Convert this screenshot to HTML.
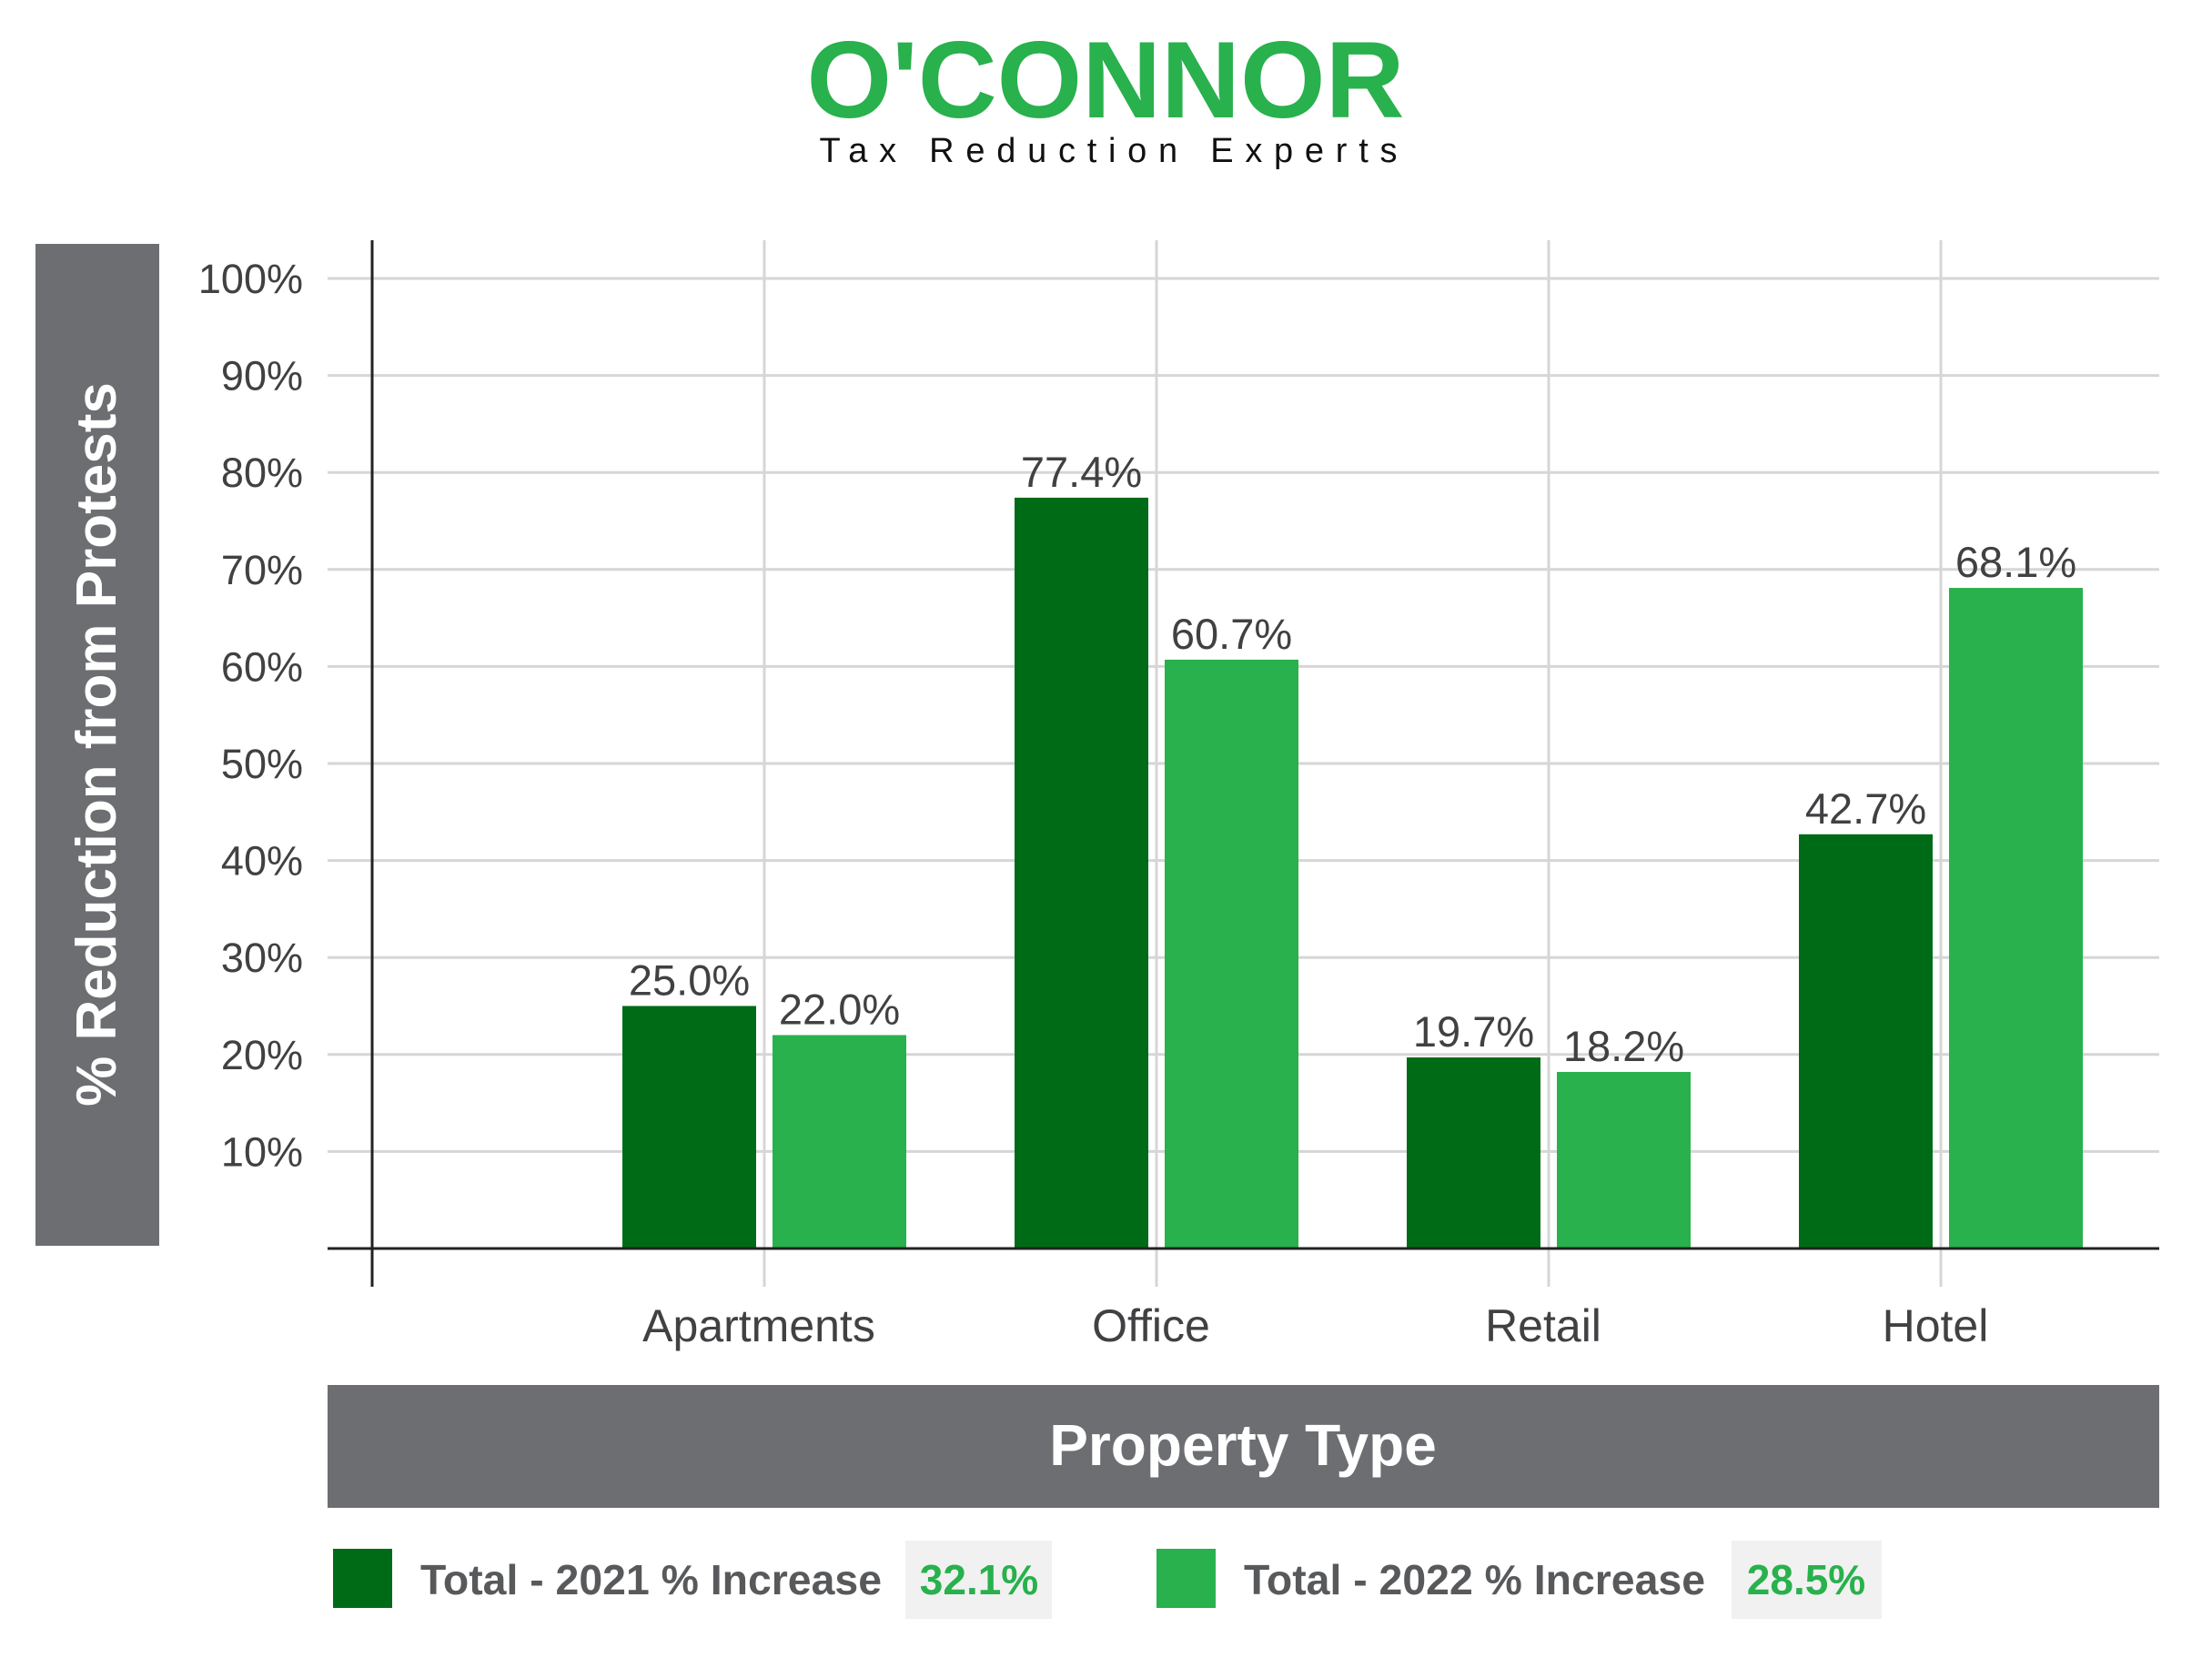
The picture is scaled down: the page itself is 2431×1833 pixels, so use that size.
<!DOCTYPE html>
<html><head><meta charset="utf-8"><style>
html,body{margin:0;padding:0;background:#fff;}
svg{display:block;font-family:"Liberation Sans",sans-serif;}
</style></head><body>
<svg width="2431" height="1833" viewBox="0 0 2431 1833">
<g>
<text x="1215" y="129" text-anchor="middle" font-size="120" font-weight="bold" fill="#28b14c" textLength="657" lengthAdjust="spacingAndGlyphs">O'CONNOR</text>
<text x="1218" y="178" text-anchor="middle" font-size="38" fill="#111" textLength="635" lengthAdjust="spacing">Tax Reduction Experts</text>
</g>
<rect x="39" y="268" width="136" height="1101" fill="#6d6e71"/>
<text transform="translate(127,818) rotate(-90)" text-anchor="middle" font-size="62" font-weight="bold" fill="#fff">% Reduction from Protests</text>
<g id="plot"></g>
<rect x="360" y="1522" width="2013" height="135" fill="#6d6e71"/>
<text x="1366" y="1610" text-anchor="middle" font-size="64" font-weight="bold" fill="#fff">Property Type</text>
<g>
<rect x="366" y="1702" width="65" height="65" fill="#006b16"/>
<text x="462" y="1752" font-size="46" font-weight="bold" fill="#58595b" textLength="507" lengthAdjust="spacingAndGlyphs">Total - 2021 % Increase</text>
<rect x="995" y="1693" width="161" height="86" fill="#f1f1f1"/>
<text x="1076" y="1752" text-anchor="middle" font-size="46" font-weight="bold" fill="#28b14c">32.1%</text>
<rect x="1271" y="1702" width="65" height="65" fill="#28b14c"/>
<text x="1367" y="1752" font-size="46" font-weight="bold" fill="#58595b" textLength="507" lengthAdjust="spacingAndGlyphs">Total - 2022 % Increase</text>
<rect x="1903" y="1693" width="165" height="86" fill="#f1f1f1"/>
<text x="1985" y="1752" text-anchor="middle" font-size="46" font-weight="bold" fill="#28b14c">28.5%</text>
</g>
</svg>
<script>
const categories = ["Apartments","Office","Retail","Hotel"];
const values2021 = [25.0, 77.4, 19.7, 42.7];
const values2022 = [22.0, 60.7, 18.2, 68.1];
const yTicks = [10,20,30,40,50,60,70,80,90,100];

const NS="http://www.w3.org/2000/svg";
const g=document.getElementById('plot');
const x0=360, x1=2373, yZero=1372, yTop=306;
const y=v=>yZero-(yZero-yTop)*v/100;
const catX=i=>840+431*i;
function el(t,a){const e=document.createElementNS(NS,t);for(const k in a)e.setAttribute(k,a[k]);g.appendChild(e);return e;}
yTicks.forEach(t=>{
  const l=el('line',{x1:x0,x2:x1,y1:y(t),y2:y(t),stroke:'#d6d6d6','stroke-width':3});
  
  
  const tx=el('text',{x:333,y:y(t)+16,'text-anchor':'end','font-size':45,fill:'#414042'});
  tx.textContent=t+'%';
  
  
});
categories.forEach((c,i)=>{
  const l=el('line',{x1:catX(i),x2:catX(i),y1:264,y2:1414,stroke:'#d6d6d6','stroke-width':3});
  
  
});
const bw=147, gap=18;
function bars(vals,off,color,name){
  vals.forEach((v,i)=>{
    const bx=catX(i)+off;
    const r=el('rect',{x:bx,y:y(v),width:bw,height:yZero-y(v),fill:color});
    
    
    const t=el('text',{x:bx+bw/2,y:y(v)-12,'text-anchor':'middle','font-size':47,fill:'#414042'});
    t.textContent=v.toFixed(1)+'%';
    
    
  });
}
bars(values2021,-gap/2-bw,'#006b16','bar-2021');
bars(values2022,gap/2,'#28b14c','bar-2022');
const ax=el('line',{x1:409,x2:409,y1:264,y2:1414,stroke:'#222','stroke-width':3});


const zx=el('line',{x1:x0,x2:x1,y1:yZero,y2:yZero,stroke:'#222','stroke-width':3});


categories.forEach((c,i)=>{
  const t=el('text',{x:catX(i)-6,y:1474,'text-anchor':'middle','font-size':50,fill:'#414042'});
  t.textContent=c;
  
  
});
</script>
</body></html>
